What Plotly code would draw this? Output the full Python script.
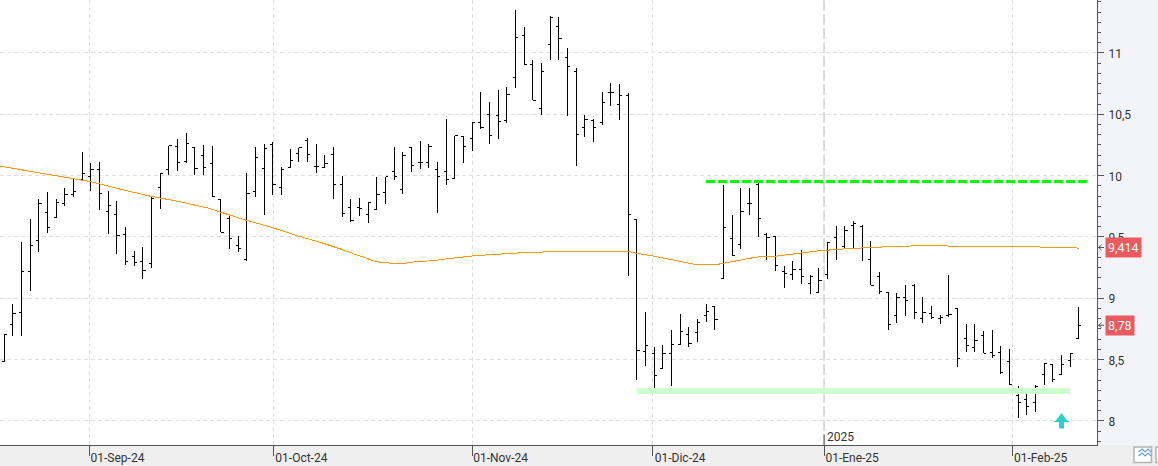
# daily OHLC bars with 200-session average, resistance / support levels and last price tags

import plotly.graph_objects as go

opens = [
    8.481, 8.790, 8.888, 9.222, 9.475, 9.703, 9.656, 9.776, 9.849, 9.969,
    9.996, 10.047, 9.705, 9.686, 9.521, 9.339, 9.303, 9.287, 9.906, 10.053,
    10.240, 10.112, 10.226, 10.161, 10.102, 9.803, 9.651, 9.434, 9.320, 9.874,
    10.061, 10.256, 9.906, 10.069, 10.183, 10.289, 10.077, 10.069, 10.175, 9.931,
    9.744, 9.744, 9.687, 9.727, 9.866, 10.037, 9.890, 10.232, 10.110, 10.110,
    10.053, 10.037, 9.980, 10.322, 10.305, 10.436, 10.501, 10.493, 10.452, 10.802,
    11.144, 10.908, 10.550, 11.071, 11.218, 10.965, 10.851, 10.395, 10.452, 10.436,
    10.680, 10.582, 10.656, 9.645, 8.570, 8.554, 8.429, 8.546, 8.625, 8.701,
    8.725, 8.863, 8.937, 9.165, 9.491, 9.442, 9.776, 9.930, 9.523, 9.507,
    9.222, 9.197, 9.238, 9.124, 9.051, 9.197, 9.499, 9.423, 9.596, 9.588,
    9.320, 9.181, 9.051, 8.858, 9.010, 9.103, 8.839, 8.880, 8.837, 8.856,
    8.913, 8.676, 8.595, 8.693, 8.562, 8.562, 8.481, 8.204, 8.171, 8.147,
    8.375, 8.462, 8.375, 8.489, 8.676,
]
highs = [
    8.706, 8.956, 9.461, 9.648, 9.808, 9.868, 9.811, 9.898, 9.974, 10.191,
    10.102, 10.110, 9.876, 9.795, 9.580, 9.385, 9.418, 9.830, 10.020, 10.243,
    10.297, 10.346, 10.232, 10.248, 10.243, 9.803, 9.678, 9.507, 10.020, 10.232,
    10.256, 10.273, 10.069, 10.218, 10.227, 10.305, 10.257, 10.167, 10.235, 9.996,
    9.809, 9.817, 9.784, 9.991, 9.991, 10.235, 10.191, 10.235, 10.284, 10.257,
    10.110, 10.460, 10.327, 10.322, 10.436, 10.680, 10.599, 10.696, 10.721, 11.351,
    11.209, 10.941, 10.916, 11.299, 11.291, 11.038, 10.876, 10.493, 10.460, 10.680,
    10.753, 10.745, 10.672, 9.645, 8.891, 8.603, 8.619, 8.741, 8.872, 8.766,
    8.831, 8.953, 8.937, 9.925, 9.681, 9.900, 9.900, 9.938, 9.531, 9.507,
    9.263, 9.303, 9.396, 9.189, 9.249, 9.458, 9.591, 9.591, 9.629, 9.594,
    9.469, 9.216, 9.051, 9.043, 9.108, 9.116, 9.010, 8.937, 8.861, 9.189,
    8.921, 8.790, 8.790, 8.731, 8.742, 8.609, 8.587, 8.288, 8.264, 8.296,
    8.473, 8.465, 8.538, 8.554, 8.929,
]
lows = [
    8.478, 8.690, 8.690, 9.056, 9.374, 9.529, 9.654, 9.749, 9.822, 9.966,
    9.871, 9.716, 9.521, 9.358, 9.268, 9.260, 9.154, 9.244, 9.724, 10.001,
    10.034, 10.102, 10.004, 10.009, 9.830, 9.540, 9.398, 9.377, 9.301, 9.822,
    9.675, 9.838, 9.846, 10.066, 10.115, 10.107, 10.018, 10.067, 9.806, 9.659,
    9.621, 9.668, 9.611, 9.725, 9.765, 9.961, 9.847, 10.026, 10.050, 10.061,
    9.692, 9.920, 9.977, 10.105, 10.197, 10.384, 10.254, 10.295, 10.433, 10.718,
    10.908, 10.615, 10.498, 10.943, 10.943, 10.490, 10.075, 10.311, 10.278, 10.411,
    10.569, 10.457, 9.178, 8.331, 8.446, 8.272, 8.424, 8.283, 8.619, 8.600,
    8.646, 8.809, 8.744, 9.165, 9.352, 9.398, 9.681, 9.496, 9.314, 9.225,
    9.086, 9.151, 9.119, 9.037, 9.048, 9.159, 9.314, 9.406, 9.409, 9.306,
    9.105, 9.032, 8.739, 8.801, 8.858, 8.828, 8.796, 8.831, 8.788, 8.847,
    8.438, 8.560, 8.560, 8.554, 8.513, 8.380, 8.291, 8.028, 8.052, 8.076,
    8.296, 8.315, 8.372, 8.438, 8.676,
]
closes = [
    8.706, 8.880, 9.222, 9.434, 9.776, 9.580, 9.779, 9.849, 9.874, 10.020,
    10.047, 9.857, 9.760, 9.515, 9.303, 9.295, 9.230, 9.811, 10.020, 10.243,
    10.104, 10.264, 10.061, 10.069, 9.830, 9.540, 9.485, 9.404, 9.852, 10.150,
    10.224, 9.931, 10.053, 10.124, 10.227, 10.175, 10.077, 10.102, 9.931, 9.695,
    9.638, 9.736, 9.784, 9.849, 9.991, 9.993, 10.167, 10.086, 10.110, 10.240,
    9.996, 9.972, 10.325, 10.240, 10.436, 10.395, 10.330, 10.444, 10.664, 11.128,
    10.908, 10.615, 10.851, 11.291, 11.120, 10.892, 10.338, 10.460, 10.395, 10.599,
    10.680, 10.656, 9.686, 8.578, 8.619, 8.367, 8.546, 8.627, 8.733, 8.635,
    8.806, 8.896, 8.831, 9.580, 9.352, 9.710, 9.770, 9.653, 9.499, 9.271,
    9.206, 9.238, 9.181, 9.181, 9.149, 9.458, 9.401, 9.553, 9.613, 9.412,
    9.105, 9.059, 8.785, 9.010, 8.986, 8.888, 8.888, 8.845, 8.847, 8.869,
    8.513, 8.619, 8.652, 8.554, 8.530, 8.397, 8.294, 8.147, 8.120, 8.285,
    8.465, 8.334, 8.457, 8.554, 8.782,
]
bars = list(range(len(closes)))

# moving average, read at its visible bends
ma_bars = [
    -0.5, 4.5, 9.9, 13.35, 16.8, 20.3, 23.7, 27.2, 30.6, 34.1, 36.4, 38.7, 41,
    42.9, 44.5, 46.4, 47.6, 49.5, 50.7, 52.6, 54.5, 56.6, 58.7, 61.6, 63.5,
    71.9, 72.9, 74.9, 77.1, 79.5, 82.5, 84.9, 86.8, 88.7, 91, 94, 97.2, 100.2,
    103.3, 106.4, 123.5, 124,
]
ma_values = [
    10.077, 10.015, 9.952, 9.890, 9.833, 9.787, 9.732, 9.651, 9.583, 9.504,
    9.458, 9.404, 9.344, 9.298, 9.287, 9.287, 9.300, 9.306, 9.319, 9.333,
    9.349, 9.357, 9.368, 9.374, 9.385, 9.385, 9.368, 9.344, 9.314, 9.279,
    9.279, 9.314, 9.336, 9.341, 9.360, 9.387, 9.404, 9.417, 9.425, 9.428,
    9.415, 9.407,
]

resistance_bars = [81, 125]
resistance_level = [9.954, 9.954]
support_bars = [73, 123]
support_level = [8.247, 8.247]

price_ticks = [8, 8.5, 9, 9.5, 10, 10.5, 11]
price_labels = ["8", "8,5", "9", "9,5", "10", "10,5", "11"]
date_ticks = [9.83, 31.05, 54.04, 74.75, 94.6, 116.35]
date_labels = ["01-Sep-24", "01-Oct-24", "01-Nov-24", "01-Dic-24", "01-Ene-25", "01-Feb-25"]
year_tick = 94.6
year_label = "2025"

tags = ["9,414", "8,78"]
tag_levels = [9.414, 8.78]

AXIS = "#555555"
TEXT = "#333333"
TAG = "#EA5A5F"
WIDTH, HEIGHT = 1158, 466
PLOT_W, PLOT_H = 1097.5, 445.5

fig = go.Figure()

fig.add_trace(go.Scatter(
    x=support_bars, y=support_level, mode="lines",
    line=dict(color="#CCFFCC", width=6), hoverinfo="skip",
))
fig.add_trace(go.Ohlc(
    x=bars, open=opens, high=highs, low=lows, close=closes,
    increasing=dict(line=dict(color="black", width=1)),
    decreasing=dict(line=dict(color="black", width=1)),
    tickwidth=0.3,
))
fig.add_trace(go.Scatter(
    x=resistance_bars, y=resistance_level, mode="lines",
    line=dict(color="#00FF00", width=3, dash="9px,3px"), hoverinfo="skip",
))
fig.add_trace(go.Scatter(
    x=ma_bars, y=ma_values, mode="lines",
    line=dict(color="#FF9811", width=1), hoverinfo="skip",
))


def px_shape(kind, x0, y0, x1, y1, **kw):
    # shape given in screen pixels, anchored to the bottom right corner of the plot
    return dict(
        type=kind, xref="paper", yref="paper",
        xsizemode="pixel", ysizemode="pixel", xanchor=1, yanchor=0,
        x0=x0 - PLOT_W, x1=x1 - PLOT_W, y0=PLOT_H - y0, y1=PLOT_H - y1, **kw,
    )


shapes = [
    # right hand scale panel, under the plot layers
    px_shape("rect", PLOT_W, 0, WIDTH, PLOT_H, fillcolor="#F2F4F7", line_width=0, layer="below"),
    # year change
    dict(type="line", xref="x", yref="paper", x0=year_tick, x1=year_tick, y0=0, y1=1,
         line=dict(color="#CCCCCC", width=1.5, dash="11px,3px"), layer="below"),
    dict(type="line", xref="x", yref="paper", x0=year_tick, x1=year_tick, y0=0,
         y1=10.5 / PLOT_H, line=dict(color=AXIS, width=1)),
    # chart type button in the corner
    px_shape("rect", 1134.5, 447.5, 1152, 463, fillcolor="white",
             line=dict(color="#B4B4B4", width=1.5)),
    px_shape("rect", 1156.5, 447.5, 1160, 463, fillcolor="white",
             line=dict(color="#B4B4B4", width=1.5)),
    dict(type="path", xref="paper", yref="paper", xsizemode="pixel", ysizemode="pixel",
         xanchor=1, yanchor=0,
         path="M 41.5 -7 L 45 -4 L 48 -7 L 51 -4 L 54 -7 M 41.5 -11 L 45 -8 L 48 -11 L 51 -8 L 54 -11",
         line=dict(color="#5AA0DC", width=1.2)),
    # up arrow under the last lows
    dict(type="path", xref="x", yref="y", xsizemode="pixel", ysizemode="pixel",
         xanchor=122, yanchor=8,
         path="M 0 8 L 6 0 L 7.5 0 L 7.5 -1 L 2.5 -1 L 2.5 -7.5 L -2.5 -7.5 L -2.5 -1 L -7.5 -1 L -7.5 0 L -6 0 Z",
         fillcolor="#33CCCC", line_width=0),
]

annotations = [
    dict(text=year_label, xref="x", yref="paper", x=year_tick, y=8.5 / PLOT_H,
         xanchor="left", yanchor="middle", xshift=1, showarrow=False,
         font=dict(family="Roboto", size=12, color=TEXT)),
]
for tag, level in zip(tags, tag_levels):
    annotations.append(dict(
        text=tag, xref="paper", yref="y", x=1105.5 / PLOT_W, y=level,
        xanchor="left", yanchor="middle", showarrow=False,
        bgcolor=TAG, borderpad=2, font=dict(family="Roboto", size=12.5, color="white"),
    ))
    shapes.append(dict(
        type="path", xref="paper", yref="y", xsizemode="pixel", ysizemode="pixel",
        xanchor=1, yanchor=level, path="M 7 0 L 1.5 0 M 4.5 2.5 L 1.5 0 L 4.5 -2.5",
        line=dict(color=AXIS, width=1),
    ))

fig.update_layout(
    width=WIDTH,
    height=HEIGHT,
    autosize=False,
    margin=dict(l=0, r=WIDTH - PLOT_W, t=0, b=HEIGHT - PLOT_H, pad=0),
    paper_bgcolor="#EFEFEF",
    plot_bgcolor="white",
    showlegend=False,
    hovermode=False,
    shapes=shapes,
    annotations=annotations,
)

fig.update_xaxes(
    range=[-0.496, 126.09],
    rangeslider=dict(visible=False),
    tickvals=date_ticks,
    ticktext=date_labels,
    ticks="outside",
    ticklen=10,
    tickcolor=AXIS,
    tickwidth=1,
    ticklabelshift=28,
    ticklabelstandoff=-8,
    tickfont=dict(family="Roboto", size=12, color=TEXT),
    showgrid=True,
    gridcolor="#DEDEDE",
    griddash="4px,3px",
    gridwidth=1,
    showline=True,
    linecolor=AXIS,
    linewidth=1,
    zeroline=False,
)
fig.update_yaxes(
    side="right",
    range=[7.804, 11.4316],
    tickvals=price_ticks,
    ticktext=price_labels,
    ticks="outside",
    ticklen=6,
    ticklabelstandoff=2,
    ticklabelshift=1,
    tickcolor=AXIS,
    tickwidth=1,
    minor=dict(tick0=8, dtick=0.5 / 6, ticks="outside", ticklen=3, tickcolor=AXIS,
               tickwidth=1, showgrid=False),
    tickfont=dict(family="Roboto", size=12, color=TEXT),
    showgrid=True,
    gridcolor="#DEDEDE",
    griddash="4px,3px",
    gridwidth=1,
    showline=True,
    linecolor=AXIS,
    linewidth=1,
    zeroline=False,
)

# page without margin, bars and average drawn crisp like the original
crisp = """
document.body.style.margin = '0';
document.querySelectorAll('.ohlc path, .scatterlayer .js-line').forEach(function (el) {
    el.style.shapeRendering = 'crispEdges';
});
"""
fig.write_html("out.html", post_script=crisp, config=dict(displayModeBar=False))
